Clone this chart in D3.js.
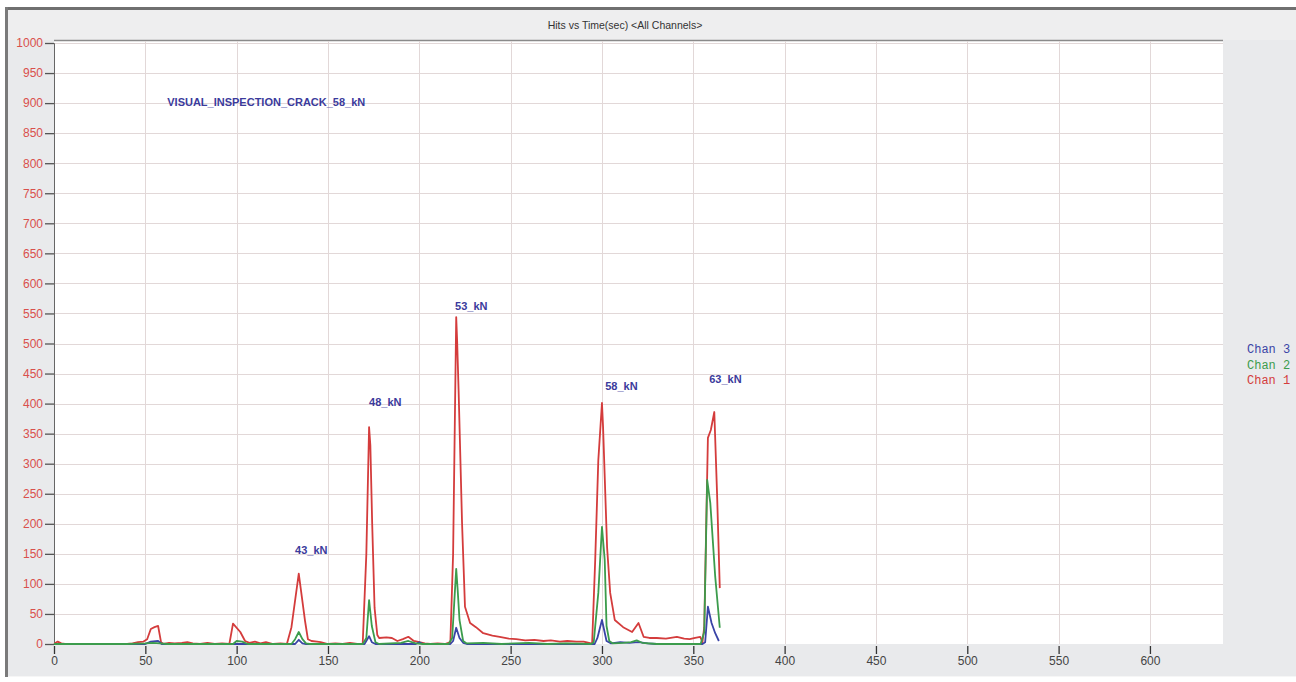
<!DOCTYPE html>
<meta charset="utf-8">
<title>Hits vs Time(sec)</title>
<style>
  body { margin: 0; background: #fff; }
  .grid line { stroke: #e2d8d8; stroke-width: 1px; }
  .tick-y text { fill: #d9504c; }
  .tick-x text { fill: #444; }
  .series { fill: none; stroke-width: 1.8px; stroke-linejoin: round; }
  .note { fill: #3b3b9c; font-weight: bold; }
</style>
<body>
<script src="https://cdn.jsdelivr.net/npm/d3@7"></script>
<script>
  // chart data: [time (sec), hits]
  var chan1 = [[0,0],[2,4],[4,1],[6,0],[12,0],[20,0],[30,0],[40,0],[43,1],[46,3],[49,4],[51,8],[53,25],[55,28],[57,30],
    [58.6,3],[60,0],[63,2],[66,1],[70,2],[73,3],[76,1],[80,0],[84,2],[88,0],[92,1],[96,0],[98,34],[102,20],[104.6,5],
    [107,2],[110,4],[113,1],[116,3],[120,0],[124,1],[127.5,0],[130,28],[134,117],[137.5,37],[139,8],[141,5],[144,4],
    [146,3],[150,0],[154,1],[158,0],[162,2],[166,0],[169,0],[171,150],[172.5,361],[173.2,330],[174.2,200],[175.5,60],
    [177,15],[178,10],[182,11],[185,10],[188,5],[191,8],[194,12],[197,5],[200,3],[203,1],[206,0],[210,1],[214,0],
    [217,3],[218.5,150],[220.2,544],[220.7,505],[221.5,423],[223.4,201],[225,62],[227.8,35],[231,28],[235,18],
    [240,14],[244,12],[249,9],[253,8],[258,6],[263,7],[268,5],[272,6],[277,4],[281,5],[286,4],[290,4],[294,1],
    [294.6,0],[296.3,140],[298,306],[300,401],[300.6,361],[302.8,161],[304.5,85],[307,40],[311.6,28],[316.5,20],
    [320,35],[322.8,12],[326,10],[330,10],[335,9],[341,12],[345,9],[348,8],[351,10],[353.8,12],[355,3],[356,28],
    [358,343],[359.6,356],[361.5,386],[363,251],[364.5,93]];

  var chan2 = [[0,0],[40,0],[50,1],[54,2],[58,1],[62,0],[98,0],[100,5],[103,4],[106,0],[130,0],[132,8],[134,20],
    [136,8],[138,1],[140,0],[169,0],[171,10],[172.5,73],[174,30],[176,3],[178,0],[190,2],[194,5],[198,1],[202,0],
    [216,0],[218,10],[220.2,125],[221,90],[222,40],[224,5],[226,1],[235,2],[245,0],[260,2],[270,0],[280,1],[294,0],
    [295.5,3],[298,85],[300,195],[301.5,140],[302.5,30],[304,5],[306,1],[312,2],[316,3],[319,6],[322,2],[330,0],
    [354,0],[356,20],[357.6,273],[359.3,235],[362,112],[364.5,27]];

  var chan3 = [[0,0],[50,0],[53,4],[57,5],[59,0],[132,0],[134,7],[136,1],[138,0],[170,0],[172.5,13],[174,3],[176,0],
    [198,0],[200,3],[202,0],[217,0],[218.5,5],[220.2,27],[222,10],[224,2],[226,0],[296,0],[297.5,10],[300,40],
    [302.5,5],[305,1],[310,3],[315,2],[320,3],[325,1],[330,0],[355,0],[356.5,3],[358,62],[360,35],[362,18],[364,5]];

  var channelNames = ["Chan 3", "Chan 2", "Chan 1"];
  var channelColors = {"Chan 1": "#d43c3c", "Chan 2": "#3c9c4c", "Chan 3": "#3a44a6"};

  // load annotations: [text, time, hits]
  var notes = [["VISUAL_INSPECTION_CRACK_58_kN", 62, 895], ["43_kN", 132, 150], ["48_kN", 172.5, 396],
    ["53_kN", 219.6, 556], ["58_kN", 301.8, 423], ["63_kN", 358.7, 434]];

  var xTicks = d3.range(0, 601, 50);
  var yTicks = d3.range(0, 1001, 50);
  var title = "Hits vs Time(sec) <All Channels>";

  var width = 1296, height = 682;
  var plot = {left: 54, right: 1223, top: 40, bottom: 644};

  var svg = d3.select("body").append("svg")
    .attr("width", width)
    .attr("height", height)
    .style("display", "block")
    .style("font-family", "'Liberation Sans', Arial, sans-serif");

  var x = d3.scaleLinear().domain([0, 640]).range([plot.left, plot.right]);
  var y = d3.scaleLinear().domain([0, 1000]).range([plot.bottom, 43]);

  // window frame
  svg.append("rect").attr("x", 5).attr("y", 7).attr("width", width - 5).attr("height", 670).attr("fill", "#e9eaec");
  svg.append("rect").attr("x", 8).attr("y", 10).attr("width", width - 8).attr("height", 30).attr("fill", "#eeeeef");
  svg.append("rect").attr("x", 5).attr("y", 7).attr("width", width - 5).attr("height", 3).attr("fill", "#707070");
  svg.append("rect").attr("x", 5).attr("y", 7).attr("width", 3).attr("height", 670).attr("fill", "#7a7a7a");
  svg.append("line").attr("x1", 8).attr("x2", width).attr("y1", 676.5).attr("y2", 676.5).attr("stroke", "#f6f6f6");

  svg.append("text")
    .attr("x", 625).attr("y", 29)
    .attr("text-anchor", "middle")
    .attr("font-size", "10.5px")
    .attr("fill", "#333")
    .text(title);

  // plot area
  svg.append("rect")
    .attr("x", plot.left).attr("y", plot.top)
    .attr("width", plot.right - plot.left).attr("height", plot.bottom - plot.top)
    .attr("fill", "#fff");
  svg.append("line")
    .attr("x1", plot.left).attr("x2", plot.right)
    .attr("y1", plot.top + 0.5).attr("y2", plot.top + 0.5)
    .attr("stroke", "#8a8a8a").attr("stroke-width", 1.5);

  var grid = svg.append("g").attr("class", "grid");
  grid.selectAll(".gx").data(xTicks.slice(1)).enter().append("line")
    .attr("x1", d => Math.round(x(d)) + 0.5).attr("x2", d => Math.round(x(d)) + 0.5)
    .attr("y1", plot.top + 1).attr("y2", plot.bottom);
  grid.selectAll(".gy").data(yTicks.slice(1)).enter().append("line")
    .attr("x1", plot.left).attr("x2", plot.right)
    .attr("y1", d => Math.round(y(d)) + 0.5).attr("y2", d => Math.round(y(d)) + 0.5);

  // axes
  var yAxis = d3.axisLeft(y).tickValues(yTicks).tickFormat(d3.format("d")).tickSize(9).tickPadding(2);
  svg.append("g").attr("class", "tick-y")
    .attr("transform", "translate(" + plot.left + ",0)")
    .call(yAxis)
    .call(g => g.select(".domain").attr("stroke", "#666"))
    .call(g => g.selectAll(".tick line").attr("stroke", "#555").attr("stroke-width", 1.3))
    .call(g => g.selectAll(".tick text").attr("font-size", "12px").attr("font-family", "'Liberation Sans', Arial, sans-serif"));

  var xAxis = d3.axisBottom(x).tickValues(xTicks).tickSize(0).tickPadding(0);
  svg.append("g").attr("class", "tick-x")
    .attr("transform", "translate(0," + plot.bottom + ")")
    .call(xAxis)
    .call(g => g.select(".domain").remove())
    .call(g => g.selectAll(".tick line").attr("y1", 2).attr("y2", 10).attr("stroke", "#333").attr("stroke-width", 1.3))
    .call(g => g.selectAll(".tick text").attr("y", 12).attr("font-size", "12px").attr("font-family", "'Liberation Sans', Arial, sans-serif"));

  // series
  var line = d3.line().x(d => x(d[0])).y(d => y(d[1]));
  var seriesData = [["Chan 1", chan1], ["Chan 3", chan3], ["Chan 2", chan2]];
  svg.append("g").selectAll("path").data(seriesData).enter().append("path")
    .attr("class", "series")
    .attr("stroke", d => channelColors[d[0]])
    .attr("d", d => line(d[1]));

  // annotations
  svg.append("g").selectAll("text").data(notes).enter().append("text")
    .attr("class", "note")
    .attr("x", d => x(d[1])).attr("y", d => y(d[2]))
    .attr("font-size", "11px")
    .text(d => d[0]);

  // legend
  svg.append("g").selectAll("text").data(channelNames).enter().append("text")
    .attr("x", 1247).attr("y", (d, i) => 353 + i * 15.5)
    .attr("font-family", "'Liberation Mono', 'Courier New', monospace")
    .attr("font-size", "12px")
    .attr("fill", d => channelColors[d])
    .text(d => d);
</script>
</body>
